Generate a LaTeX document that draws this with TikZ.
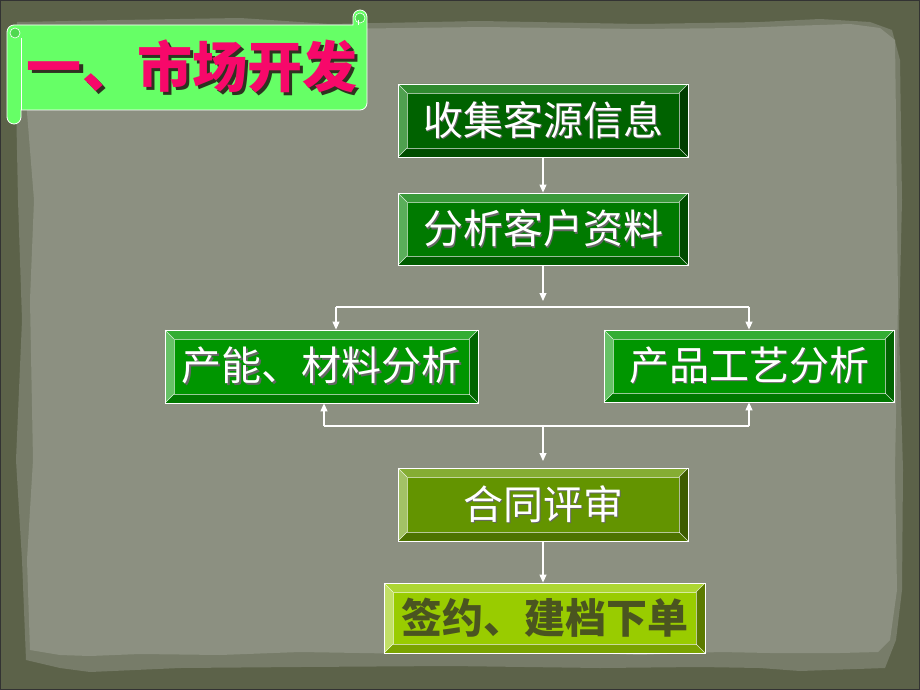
\documentclass[tikz,border=0pt]{standalone}
\usepackage{fontspec}
\newfontfamily\cjk{Noto Sans CJK SC}
\usetikzlibrary{arrows.meta,calc}
\definecolor{frame}{HTML}{5C6249}
\definecolor{band}{HTML}{777C69}
\definecolor{paper}{HTML}{8C9081}
% box colour sets
\definecolor{bxAface}{HTML}{006200}\definecolor{bxAtop}{HTML}{2F8A2F}\definecolor{bxAleft}{HTML}{4FA04F}\definecolor{bxAright}{HTML}{003D00}\definecolor{bxAbot}{HTML}{004D00}
\definecolor{bxBface}{HTML}{007A00}\definecolor{bxBtop}{HTML}{3A993A}\definecolor{bxBleft}{HTML}{5AAE5A}\definecolor{bxBright}{HTML}{004A00}\definecolor{bxBbot}{HTML}{005C00}
\definecolor{bxCface}{HTML}{009600}\definecolor{bxCtop}{HTML}{33AD33}\definecolor{bxCleft}{HTML}{66C266}\definecolor{bxCright}{HTML}{006400}\definecolor{bxCbot}{HTML}{007800}
\definecolor{bxDface}{HTML}{639400}\definecolor{bxDtop}{HTML}{85AD33}\definecolor{bxDleft}{HTML}{A3C266}\definecolor{bxDright}{HTML}{3D5C00}\definecolor{bxDbot}{HTML}{4D7300}
\definecolor{bxEface}{HTML}{99CC00}\definecolor{bxEtop}{HTML}{ADD633}\definecolor{bxEleft}{HTML}{C2E066}\definecolor{bxEright}{HTML}{5C7A00}\definecolor{bxEbot}{HTML}{7AA300}
\definecolor{scroll}{HTML}{66FF66}
\definecolor{scrolldk}{HTML}{4FD94F}
\definecolor{titlered}{HTML}{F7086A}
\definecolor{titleshadow}{HTML}{2E3320}
\definecolor{darkolive}{HTML}{4A5420}
\newcommand{\bevelbox}[6]{%
  \fill[#6face] (#2,#3) rectangle (#4,#5);
  \fill[#6top] (#2,#3) -- (#4,#3) -- (#4-9,#3+9) -- (#2+9,#3+9) -- cycle;
  \fill[#6bot] (#2,#5) -- (#4,#5) -- (#4-9,#5-9) -- (#2+9,#5-9) -- cycle;
  \fill[#6left] (#2,#3) -- (#2+9,#3+9) -- (#2+9,#5-9) -- (#2,#5) -- cycle;
  \fill[#6right] (#4,#3) -- (#4-9,#3+9) -- (#4-9,#5-9) -- (#4,#5) -- cycle;
  \draw[white, line width=0.6pt, opacity=0.8] (#2,#3) -- (#2+9,#3+9) (#4,#3) -- (#4-9,#3+9) (#2,#5) -- (#2+9,#5-9) (#4,#5) -- (#4-9,#5-9);
  \draw[white, line width=0.6pt, opacity=0.6] (#2+9,#3+9) rectangle (#4-9,#5-9);
  \node[draw=white, line width=0.8pt, inner sep=0pt, minimum width={(#4-#2)*1pt}, minimum height={(#5-#3)*1pt}] (#1) at ({(#2+#4)/2},{(#3+#5)/2}) {};
}
\newcommand{\shadowed}[3]{\makebox[0pt][l]{\hspace{#3}\raisebox{-#3}{\color{#2}#1}}#1}
\begin{document}
\begin{tikzpicture}[x=1pt,y=-1pt,
  conn/.style={draw=white, line width=1.1pt},
  arr/.style={conn, -{Triangle[width=7pt,length=8pt]}},
  boxtxt/.style={text=white, font=\cjk\fontsize{40}{40}\selectfont, inner sep=0pt},
]
\useasboundingbox (0,0) rectangle (920,690);
% background
\fill[frame] (0,0) rectangle (920,690);
\fill[band] (17,22) -- (120,20) -- (240,18) -- (330,24) -- (480,21) -- (640,24) -- (760,22) -- (820,19) -- (870,22) -- (892,30) -- (900,60) -- (902,200) -- (899,330) -- (903,470) -- (902,590) -- (896,640) -- (885,668) -- (800,671) -- (760,668) -- (700,667) -- (600,668) -- (450,666) -- (300,667) -- (180,668) -- (90,672) -- (60,668) -- (26,660) -- (22,560) -- (16,460) -- (22,320) -- (18,200) -- (16,100) -- cycle;
\fill[paper] (30,28) -- (120,26) -- (240,25) -- (330,29) -- (480,27) -- (640,29) -- (740,28) -- (790,26) -- (850,24) -- (880,28) -- (895,40) -- (896,120) -- (898,300) -- (895,470) -- (897,590) -- (890,640) -- (878,652) -- (840,653) -- (770,653) -- (720,652) -- (640,655) -- (560,652) -- (420,654) -- (300,652) -- (220,655) -- (140,654) -- (90,656) -- (60,655) -- (30,650) -- (27,560) -- (33,460) -- (30,300) -- (34,200) -- (26,100) -- cycle;
\draw[black!80, line width=1.2pt] (0,0) rectangle (920,690);
% title scroll
\filldraw[fill=scroll, draw=white, line width=0.8pt] (14,25) -- (353,25) -- (353,17) arc (180:0:7pt) -- (367,103) arc (0:-90:7pt) -- (21,110) -- (21,117) arc (0:-180:7pt) -- (7,32) arc (180:90:7pt) -- cycle;
\draw[white, line width=0.8pt] (21,38) -- (21,110);
\filldraw[fill=scrolldk, draw=white, line width=0.6pt] (15,33) circle (5pt);
\filldraw[fill=scrolldk, draw=white, line width=0.6pt] (360,18) circle (5pt);
\draw[white, line width=0.6pt] (358,20) -- (358,25);
\node[font=\cjk\bfseries\fontsize{55}{55}\selectfont, text=titlered, inner sep=0pt] (title) at (192,68) {\shadowed{一、市场开发}{titleshadow}{3pt}};
% boxes
\bevelbox{b1}{398}{84}{688}{157}{bxA}
\bevelbox{b2}{398}{193}{688}{265}{bxB}
\bevelbox{b3}{165}{330}{478}{403}{bxC}
\bevelbox{b4}{604}{330}{894}{402}{bxC}
\bevelbox{b5}{398}{468}{688}{541}{bxD}
\bevelbox{b6}{384}{583}{705}{653}{bxE}
% texts
\node[boxtxt] (t1) at (b1.center) {\shadowed{收集客源信息}{black!60}{1.5pt}};
\node[boxtxt] (t2) at (b2.center) {\shadowed{分析客户资料}{black!60}{1.5pt}};
\node[boxtxt] (t3) at (b3.center) {\shadowed{产能、材料分析}{black!60}{1.5pt}};
\node[boxtxt] (t4) at (b4.center) {\shadowed{产品工艺分析}{black!60}{1.5pt}};
\node[boxtxt] (t5) at (b5.center) {\shadowed{合同评审}{black!60}{1.5pt}};
\node[boxtxt, font=\cjk\bfseries\fontsize{41}{41}\selectfont, text=darkolive] (t6) at (b6.center) {签约、建档下单};
% connectors
\coordinate (j1) at (543,301);
\coordinate (tl) at (336,307);
\coordinate (tr) at (749,307);
\coordinate (bl) at (324,426);
\coordinate (br) at (749,426);
\coordinate (bm) at (543,426);
\coordinate (j2) at (543,461);
\draw[arr] (b1.south) -- (b2.north);
\draw[arr] (b2.south) -- (j1);
\draw[conn] (tl) -- (tr);
\draw[arr] (tl) -- (tl |- b3.north);
\draw[arr] (tr) -- (b4.north);
\draw[conn] (bl) -- (br);
\draw[arr] (bl) -- (bl |- b3.south);
\draw[arr] (br) -- (b4.south);
\draw[arr] (bm) -- (j2);
\draw[arr] (b5.south) -- (b5.south |- b6.north);
\end{tikzpicture}
\end{document}
